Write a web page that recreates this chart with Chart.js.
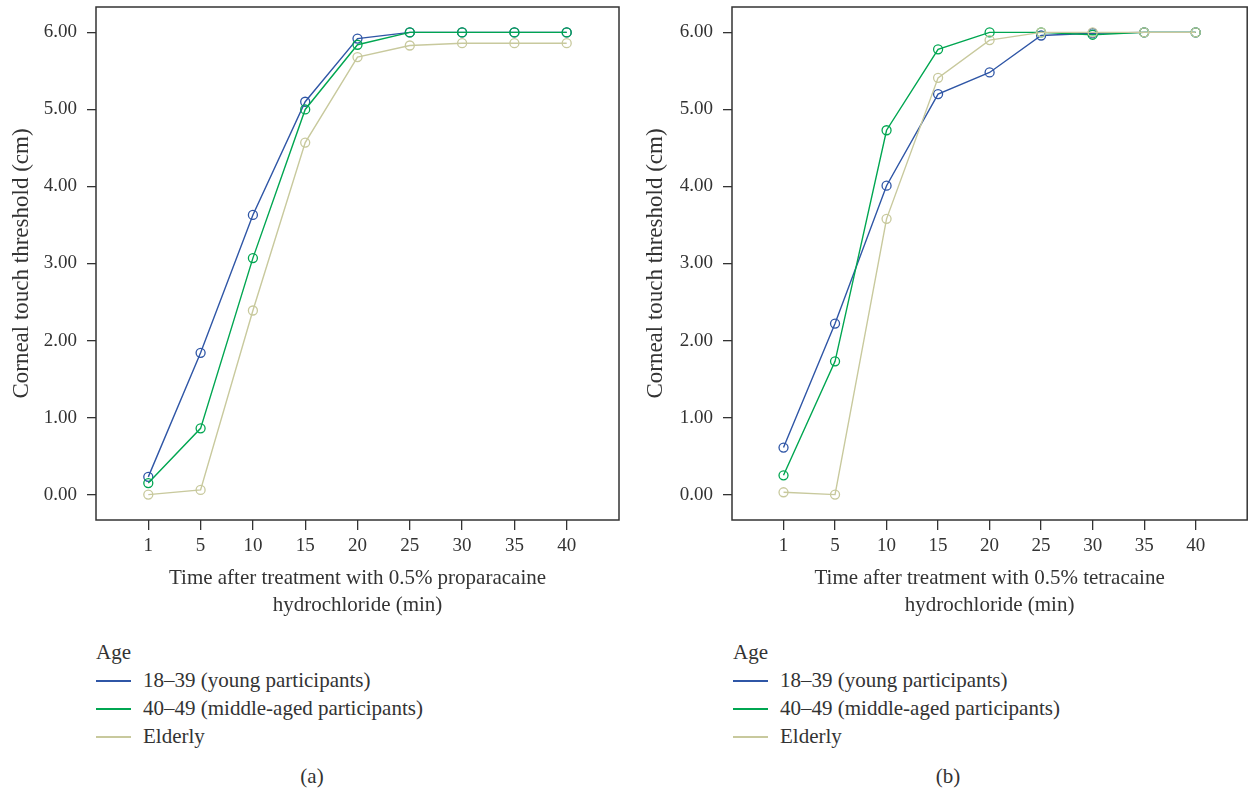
<!DOCTYPE html>
<html>
<head>
<meta charset="utf-8">
<script src="https://cdn.jsdelivr.net/npm/chart.js@4.4.1/dist/chart.umd.min.js"></script>
<style>
  html, body { margin: 0; padding: 0; background: #fff; }
  body { width: 1253px; height: 792px; position: relative; overflow: hidden;
         font-family: "Liberation Serif", "DejaVu Serif", serif; color: #333; }
  .panel { position: absolute; top: 0; height: 625px; }
  .legend { position: absolute; font-size: 21px; line-height: 28px; }
  .legend .row { position: relative; height: 28px; white-space: nowrap; }
  .legend .swatch { position: absolute; left: 0; top: 14px; width: 35px; height: 1.5px; }
  .legend .row span.txt { position: absolute; left: 47px; top: 0; }
  .caption { position: absolute; font-size: 21px; top: 764px; width: 60px; text-align: center; }
</style>
</head>
<body>

<div class="panel" style="left:0;width:626px"><canvas id="chart-a" width="626" height="625"></canvas></div>
<div class="panel" style="left:626px;width:627px"><canvas id="chart-b" width="627" height="625"></canvas></div>

<div class="legend" id="legend-a" style="left:96px;top:638px"></div>
<div class="legend" id="legend-b" style="left:733px;top:638px"></div>
<div class="caption" style="left:282px">(a)</div>
<div class="caption" style="left:918px">(b)</div>

<script>
// ── Data ──
const timeLabels = ['1', '5', '10', '15', '20', '25', '30', '35', '40'];
const yTicks = [0, 1, 2, 3, 4, 5, 6];
const seriesNames = ['18–39 (young participants)', '40–49 (middle-aged participants)', 'Elderly'];
const seriesColors = ['#2f56a6', '#00a651', '#c8c99d'];

// (a) proparacaine
const propYoung   = [0.23, 1.84, 3.63, 5.10, 5.92, 6.00, 6.00, 6.00, 6.00];
const propMiddle  = [0.15, 0.86, 3.07, 5.00, 5.84, 6.00, 6.00, 6.00, 6.00];
const propElderly = [0.00, 0.06, 2.39, 4.57, 5.68, 5.83, 5.86, 5.86, 5.86];

// (b) tetracaine
const tetraYoung   = [0.61, 2.22, 4.01, 5.20, 5.48, 5.96, 5.99, 6.00, 6.00];
const tetraMiddle  = [0.25, 1.73, 4.73, 5.78, 6.00, 6.00, 5.97, 6.00, 6.00];
const tetraElderly = [0.03, 0.00, 3.58, 5.41, 5.90, 6.00, 6.00, 6.00, 6.00];

const FONT = '"Liberation Serif", "DejaVu Serif", serif';
const INK = '#333';

// frame round the plot area
const framePlugin = {
  id: 'frame',
  afterDraw(chart) {
    const { ctx, chartArea: a } = chart;
    ctx.save();
    ctx.strokeStyle = INK;
    ctx.lineWidth = 1.5;
    ctx.strokeRect(a.left, a.top, a.right - a.left, a.bottom - a.top);
    ctx.restore();
  }
};

function makeChart(id, series, xTitle, axisWidth, titlePad, padRight) {
  const ctx = document.getElementById(id).getContext('2d');
  return new Chart(ctx, {
    type: 'line',
    data: {
      datasets: series.map((vals, i) => ({
        label: seriesNames[i],
        data: vals.map((y, x) => ({ x, y })),
        borderColor: seriesColors[i],
        backgroundColor: 'rgba(0,0,0,0)',
        borderWidth: 1.4,
        pointRadius: 4.5,
        pointBorderWidth: 1.3,
        pointBackgroundColor: 'rgba(0,0,0,0)',
        pointBorderColor: seriesColors[i],
        tension: 0,
        order: 3 - i
      }))
    },
    options: {
      responsive: false,
      animation: false,
      layout: { padding: { top: 7, right: padRight, left: 0, bottom: 0 } },
      plugins: { legend: { display: false }, tooltip: { enabled: false } },
      scales: {
        x: {
          type: 'linear',
          min: -1,
          max: 9,
          afterBuildTicks: s => { s.ticks = timeLabels.map((_, i) => ({ value: i })); },
          afterFit: s => { s.height = 105; s.paddingLeft = 0; s.paddingRight = 0; },
          ticks: {
            callback: v => timeLabels[v],
            color: INK,
            padding: 5,
            maxRotation: 0,
            font: { family: FONT, size: 19 }
          },
          grid: { drawOnChartArea: false, drawTicks: true, tickLength: 10, color: INK, lineWidth: 1.3 },
          border: { display: false },
          title: {
            display: true,
            text: xTitle,
            color: INK,
            padding: { top: 0, bottom: 6 },
            font: { family: FONT, size: 21, lineHeight: 1.28 }
          }
        },
        y: {
          min: -0.33,
          max: 6.33,
          afterBuildTicks: s => { s.ticks = yTicks.map(v => ({ value: v })); },
          afterFit: s => { s.width = axisWidth; s.paddingTop = 0; s.paddingBottom = 0; },
          ticks: {
            callback: v => v.toFixed(2),
            color: INK,
            padding: 10,
            font: { family: FONT, size: 19 }
          },
          grid: { drawOnChartArea: false, drawTicks: true, tickLength: 9, color: INK, lineWidth: 1.3 },
          border: { display: false },
          title: {
            display: true,
            text: 'Corneal touch threshold (cm)',
            color: INK,
            padding: { top: titlePad, bottom: 0 },
            font: { family: FONT, size: 23 }
          }
        }
      }
    },
    plugins: [framePlugin]
  });
}

makeChart('chart-a', [propYoung, propMiddle, propElderly],
  ['Time after treatment with 0.5% proparacaine', 'hydrochloride (min)'], 96, 8, 7);
makeChart('chart-b', [tetraYoung, tetraMiddle, tetraElderly],
  ['Time after treatment with 0.5% tetracaine', 'hydrochloride (min)'], 106, 16, 1);

// ── Legends ──
function renderLegend(id) {
  const el = document.getElementById(id);
  el.innerHTML = '<div class="row">Age</div>' + seriesNames.map((n, i) => `
    <div class="row"><div class="swatch" style="background:${seriesColors[i]}"></div><span class="txt">${n}</span></div>
  `).join('');
}
renderLegend('legend-a');
renderLegend('legend-b');
</script>
</body>
</html>
